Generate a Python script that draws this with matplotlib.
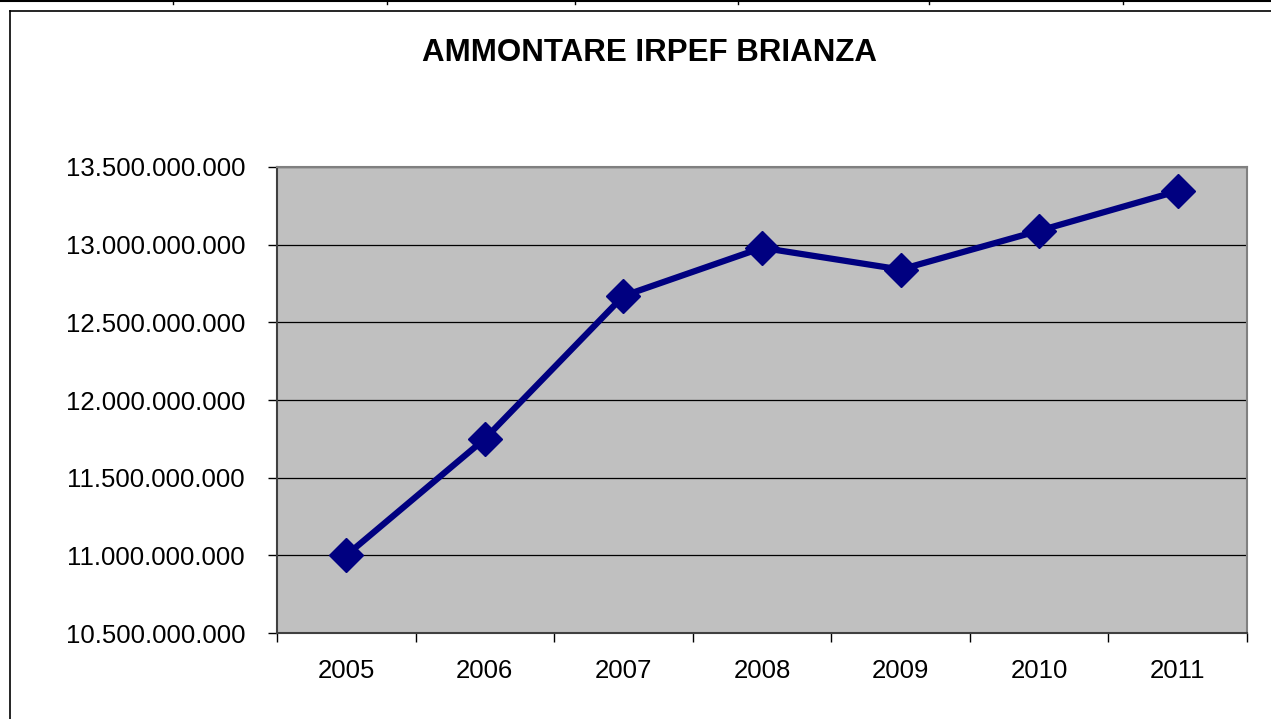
import matplotlib
matplotlib.use("Agg")
import matplotlib.pyplot as plt
from matplotlib.lines import Line2D
from matplotlib.ticker import FuncFormatter, MultipleLocator, FixedLocator

years = ["2005", "2006", "2007", "2008", "2009", "2010", "2011"]
irpef = [11.0e9, 11.75e9, 12.67e9, 12.98e9, 12.84e9, 13.09e9, 13.345e9]
title = "AMMONTARE IRPEF BRIANZA"

plt.rcParams['font.family'] = ['Liberation Sans', 'DejaVu Sans']

W, H = 1271, 719
fig = plt.figure(figsize=(W / 100, H / 100), dpi=100)
fig.patch.set_facecolor('white')

# outer frame (left and top visible)
fig.add_artist(Line2D([10 / W, 10 / W], [0, 1 - 11 / H], color='black', lw=1.2, transform=fig.transFigure))
fig.add_artist(Line2D([10 / W, 1], [1 - 11 / H, 1 - 11 / H], color='black', lw=1.2, transform=fig.transFigure))
# spreadsheet cell borders at the very top
fig.add_artist(Line2D([0, 1], [1 - 1 / H, 1 - 1 / H], color='black', lw=1.5, transform=fig.transFigure))
for xc in [173, 387, 575, 738, 929, 1123]:
    fig.add_artist(Line2D([xc / W, xc / W], [1, 1 - 4 / H], color='black', lw=1, transform=fig.transFigure))

ax = fig.add_axes([277 / W, 1 - 633 / H, (1247 - 277) / W, (633 - 167) / H])
ax.set_facecolor('#C0C0C0')

x = list(range(len(years)))
ax.plot(x, irpef, color='#000080', lw=4.5, marker='D', markersize=17,
        markerfacecolor='#000080', markeredgecolor='#000080', zorder=3, clip_on=False)

ax.set_xlim(-0.5, len(years) - 0.5)
ax.set_ylim(10.5e9, 13.5e9)

ax.yaxis.set_major_locator(MultipleLocator(0.5e9))
ax.yaxis.set_major_formatter(FuncFormatter(lambda v, p: f"{int(round(v)):,}".replace(",", ".")))
ax.grid(axis='y', color='black', lw=0.9)
ax.set_axisbelow(True)

ax.xaxis.set_major_locator(FixedLocator([i - 0.5 for i in range(len(years) + 1)]))
ax.xaxis.set_major_formatter(FuncFormatter(lambda v, p: ""))
ax.xaxis.set_minor_locator(FixedLocator(x))
ax.set_xticklabels(years, minor=True)
ax.tick_params(axis='x', which='major', length=6.5, width=1, color='black', direction='out')
ax.tick_params(axis='x', which='minor', length=0, pad=19, labelsize=18.5)
ax.tick_params(axis='y', length=6.5, width=1, color='black', pad=16.5, labelsize=18.5, direction='out')

for s in ['top', 'right']:
    ax.spines[s].set_color('#808080')
    ax.spines[s].set_linewidth(1.5)
for s in ['left', 'bottom']:
    ax.spines[s].set_color('#404040')
    ax.spines[s].set_linewidth(1.5)

fig.text(650 / W, 1 - 53 / H, title, ha='center', va='center', fontsize=22.5, fontweight='bold')

fig.savefig("out.png", dpi=100)
